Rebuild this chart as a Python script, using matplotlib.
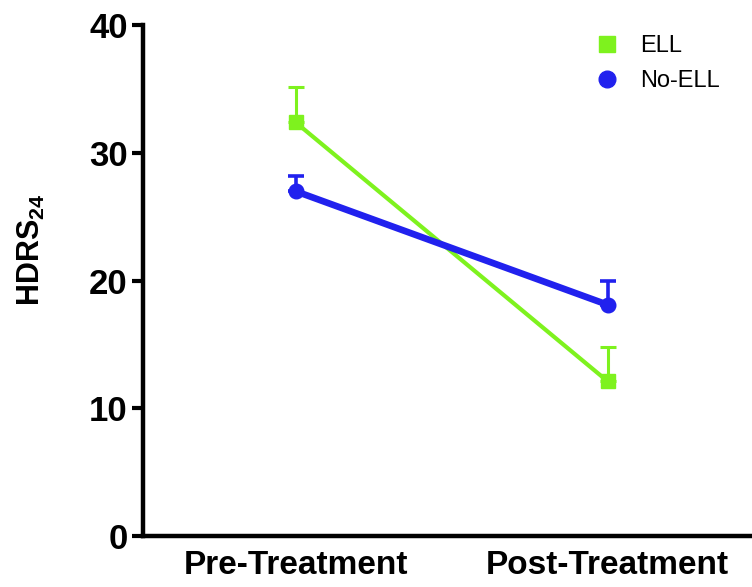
import numpy as np
import matplotlib
matplotlib.use("Agg")
import matplotlib.pyplot as plt
from matplotlib.lines import Line2D

plt.rcParams['font.family'] = ['Liberation Sans', 'DejaVu Sans']
plt.rcParams['mathtext.fontset'] = 'custom'
plt.rcParams['mathtext.rm'] = 'Liberation Sans:bold'
plt.rcParams['mathtext.bf'] = 'Liberation Sans:bold'

# data
timepoints = ['Pre-Treatment', 'Post-Treatment']
ell_mean = [32.4, 12.1]
ell_err = [2.8, 2.7]
noell_mean = [27.0, 18.1]
noell_err = [1.2, 1.9]

green = '#7EF21E'
blue = '#2121EE'

fig = plt.figure(figsize=(7.52, 5.87), dpi=100)
ax = fig.add_axes([0.19, 0.087, 0.808, 0.870])

x = np.arange(len(timepoints))

# one-sided (upper) error bars like the original
ax.errorbar(x, ell_mean, yerr=[np.zeros(2), ell_err], color=green, lw=3,
            marker='s', ms=10.5, capsize=5.5, elinewidth=2.2, capthick=2.2)
ax.errorbar(x, noell_mean, yerr=[np.zeros(2), noell_err], color=blue, lw=4.8,
            marker='o', ms=10.5, capsize=5.5, elinewidth=2.6, capthick=2.6)

ax.set_xlim(-0.489, 1.457)
ax.set_ylim(0, 40)
ax.set_yticks([0, 10, 20, 30, 40])
ax.set_xticks(x)
ax.set_xticklabels(timepoints, fontsize=24, fontweight='bold')
ax.tick_params(axis='x', length=0, pad=10)
ax.tick_params(axis='y', length=8, width=3, labelsize=25, pad=3)
for lab in ax.get_yticklabels():
    lab.set_fontweight('bold')

ax.spines['top'].set_visible(False)
ax.spines['right'].set_visible(False)
ax.spines['left'].set_linewidth(3.2)
ax.spines['bottom'].set_linewidth(3.2)

ax.set_ylabel('HDRS$_{24}$', fontsize=22, fontweight='bold', labelpad=30, y=0.56)

handles = [Line2D([], [], marker='s', ls='', color=green, ms=11),
           Line2D([], [], marker='o', ls='', color=blue, ms=12)]
ax.legend(handles, ['ELL', 'No-ELL'], loc='upper right', frameon=False,
          fontsize=17, handletextpad=0.4, labelspacing=0.55,
          bbox_to_anchor=(0.985, 1.022))

fig.savefig('out.png', dpi=100)
